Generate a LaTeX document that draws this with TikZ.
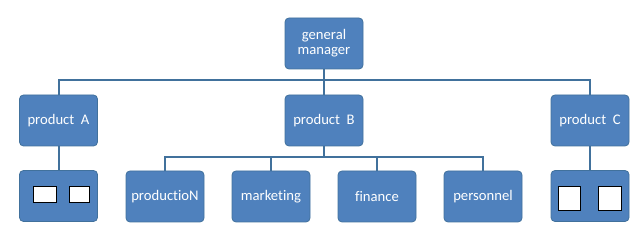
\documentclass[tikz,border=0pt]{standalone}
\usepackage{fontspec}
\setmainfont{Carlito}[Ligatures={NoCommon}]
\definecolor{boxfill}{HTML}{4F81BD}
\definecolor{boxedge}{HTML}{41719C}
\definecolor{linkc}{HTML}{41719C}
\begin{document}
\begin{tikzpicture}[x=0.75pt,y=-0.75pt,
  unit/.style={draw=boxedge,fill=boxfill,line width=0.6pt,rounded corners=3pt,
    minimum width=58.5pt,minimum height=38.25pt,inner sep=0pt,
    text=white,font=\fontsize{11}{12}\selectfont,align=center},
  sq/.style={draw=black,fill=white,line width=0.6pt,inner sep=0pt},
  link/.style={draw=linkc,line width=1.5pt}]
\useasboundingbox (0,0) rectangle (640,234);
\node[unit] (gm) at (324,43.5) {general\\[-1pt]manager};
\node[unit] (pa) at (58.5,120.5) {product\ \ A};
\node[unit] (pb) at (324,120.5) {product\ \ B};
\node[unit] (pc) at (590,120.5) {product\ \ C};
\node[unit] (ba) at (58.5,196) {};
\node[unit] (bc) at (590,196) {};
\node[unit] (b1) at (165,196.5) {productioN};
\node[unit] (b2) at (271,196.5) {marketing};
\node[unit] (b3) at (377,196.5) {finance};
\node[unit] (b4) at (483,196.5) {personnel};
\node[sq,minimum width=17.25pt,minimum height=12pt] (sa1) at (44.5,194) {};
\node[sq,minimum width=15pt,minimum height=12pt] (sa2) at (79,194) {};
\node[sq,minimum width=16.5pt,minimum height=18pt] (sc1) at (569,198) {};
\node[sq,minimum width=17.25pt,minimum height=18pt] (sc2) at (609.5,198) {};
\draw[link] (gm.south) -- ++(0,11) -| (pa.north);
\draw[link] (gm.south) -- ++(0,11) -| (pc.north);
\draw[link] (gm.south) -- (pb.north);
\draw[link] (pa.south) -- (ba.north);
\draw[link] (pc.south) -- (bc.north);
\draw[link] (pb.south) -- ++(0,11) -| (b1.north);
\draw[link] (pb.south) -- ++(0,11) -| (b2.north);
\draw[link] (pb.south) -- ++(0,11) -| (b3.north);
\draw[link] (pb.south) -- ++(0,11) -| (b4.north);
\end{tikzpicture}
\end{document}
